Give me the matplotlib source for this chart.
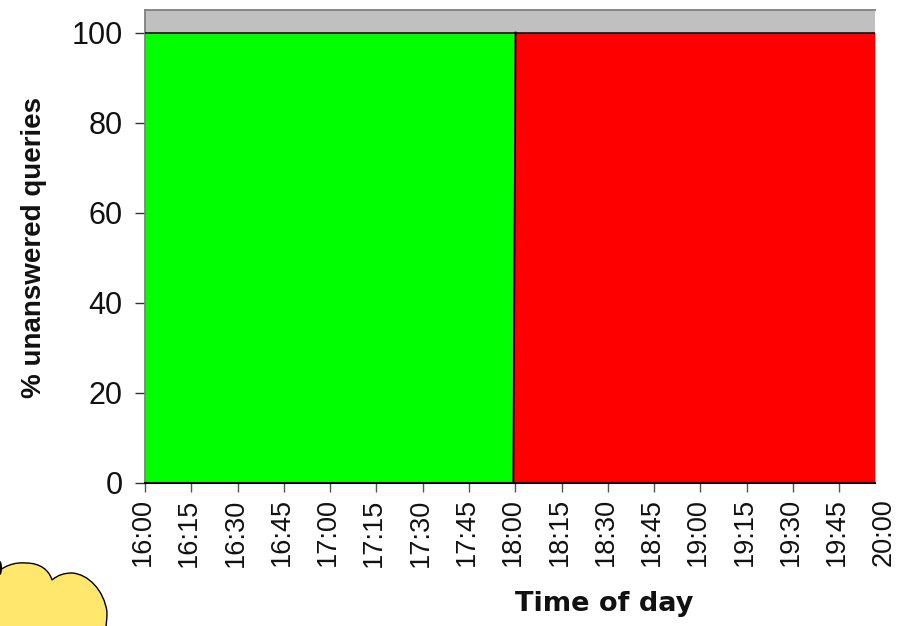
import matplotlib
matplotlib.use('Agg')
import matplotlib.pyplot as plt
from matplotlib.patches import PathPatch, Ellipse
from matplotlib.path import Path
from matplotlib.transforms import ScaledTranslation

plt.rcParams['font.family'] = ['Liberation Sans', 'DejaVu Sans']

W, H = 901, 626

# minutes after 16:00
tick_labels = ['16:00', '16:15', '16:30', '16:45', '17:00', '17:15', '17:30', '17:45', '18:00',
               '18:15', '18:30', '18:45', '19:00', '19:15', '19:30', '19:45', '20:00']
tick_minutes = [0, 15, 30, 45, 60, 75, 90, 105, 120, 135, 150, 165, 180, 195, 210, 225, 240]
y_ticks = [0, 20, 40, 60, 80, 100]

# the boundary between both states leans a little
level = [0, 100]
change_minute = [119.4, 120.1]
end_minute = 236.6
top_limit = 105

left, right, top, bottom = 145, 875, 10, 483

fig = plt.figure(figsize=(W / 100, H / 100), dpi=100)
ax = fig.add_axes([left / W, 1 - bottom / H, (right - left) / W, (bottom - top) / H])
ax.set_xlim(0, end_minute)
ax.set_ylim(0, top_limit)
ax.set_facecolor('#C0C0C0')

ax.fill_betweenx(level, 0, change_minute, color='#00FF00', lw=0, zorder=2)
ax.fill_betweenx(level, change_minute, end_minute, color='#FF0000', lw=0, zorder=2)
ax.plot(change_minute, level, color='black', lw=1.3, zorder=3)
ax.plot([0, end_minute], [100, 100], color='black', lw=1.1, zorder=3)
ax.plot([0, end_minute], [0, 0], color='black', lw=1.5, zorder=3, clip_on=False)

for s in ['right', 'bottom']:
    ax.spines[s].set_visible(False)
for s in ['top', 'left']:
    ax.spines[s].set_color('#7F7F7F')
    ax.spines[s].set_linewidth(1.3)

ax.set_xticks(tick_minutes[:-1])
ax.set_xticklabels(tick_labels[:-1], rotation=90, fontsize=19.5, color='#111111')
ax.set_yticks(y_ticks)
ax.set_yticklabels(y_ticks, fontsize=22, color='#111111')
ax.tick_params(axis='x', length=6.5, width=1.0, color='#555555', pad=4.5)
ax.tick_params(axis='y', length=7.2, width=1.0, color='#333333', pad=9)

# labels sit a bit left of their ticks
shift = ScaledTranslation(-1.5 / 72, 0, fig.dpi_scale_trans)
for lab in ax.get_xticklabels():
    lab.set_transform(lab.get_transform() + shift)

# last label falls past the end of the axes, so no tick there
ax.annotate(tick_labels[-1], xy=(tick_minutes[-1], 0), xycoords=ax.get_xaxis_transform(),
            xytext=(-1.5, -11), textcoords='offset points', rotation=90, ha='center', va='top',
            fontsize=19.5, color='#111111', annotation_clip=False)

fig.text(34 / W, 1 - 247 / H, '% unanswered queries', rotation=90, ha='center', va='center',
         fontsize=20, fontweight='bold', color='#111111')
fig.text(604 / W, 1 - 604 / H, 'Time of day', ha='center', va='center',
         fontsize=19.5, fontweight='bold', color='#111111', family='DejaVu Sans')

# cloud in the lower left corner
def px(x, y):
    return (x / W, 1 - y / H)

verts = [px(-3, 572), px(5, 566), px(14, 562), px(26, 563), px(40, 563), px(49, 570), px(52, 580),
         px(58, 575), px(64, 573), px(72, 573), px(88, 574), px(104, 590), px(107, 612),
         px(107, 618), px(106, 630), px(105, 632), px(50, 632), px(-3, 632), px(-3, 572)]
codes = [Path.MOVETO, Path.CURVE4, Path.CURVE4, Path.CURVE4, Path.CURVE4, Path.CURVE4, Path.CURVE4,
         Path.CURVE4, Path.CURVE4, Path.CURVE4, Path.CURVE4, Path.CURVE4, Path.CURVE4,
         Path.CURVE4, Path.CURVE4, Path.CURVE4, Path.LINETO, Path.LINETO, Path.CLOSEPOLY]
fig.add_artist(PathPatch(Path(verts, codes), transform=fig.transFigure, facecolor='#FFE76E',
                         edgecolor='black', lw=1.0))
fig.add_artist(Ellipse(px(0, 568), 4 / W, 14 / H, transform=fig.transFigure, color='black', lw=0))

fig.savefig('out.png', dpi=100)
